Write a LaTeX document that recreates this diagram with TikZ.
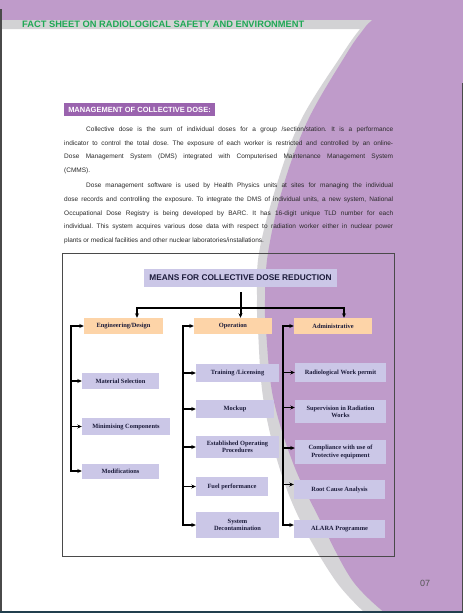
\documentclass[tikz,border=0pt]{standalone}
\usepackage{fontspec}
\setmainfont{Liberation Serif}
\newfontfamily\arialf{Liberation Sans}
\usetikzlibrary{arrows.meta}
\definecolor{pagepurple}{HTML}{BF9BCA}
\definecolor{shadowgray}{HTML}{D5D4D7}
\definecolor{bandgray}{HTML}{D2D2D4}
\definecolor{headgreen}{HTML}{1FA855}
\definecolor{headpurple}{HTML}{9A63AE}
\definecolor{lav}{HTML}{CBC7E7}
\definecolor{peach}{HTML}{FDD4A8}
\definecolor{navy}{HTML}{1B1B3A}
\definecolor{bodytext}{HTML}{2A2A2A}
\definecolor{framecol}{HTML}{4A4A4A}
\definecolor{edgedark}{HTML}{4A4A4A}
\definecolor{bottomband}{HTML}{213F4E}
\definecolor{pagenum}{HTML}{555555}
\newcommand{\jline}[2]{\makebox[#1][s]{#2}}
\frenchspacing
\begin{document}
\begin{tikzpicture}[x=1pt,y=-1pt,
  arr/.tip={Stealth[length=4.5pt,width=4pt]},
  catbox/.style={fill=peach, draw=none, inner sep=1pt, align=center, text=navy,
    font=\fontsize{6.4}{7.3}\selectfont\bfseries},
  subbox/.style={fill=lav, draw=none, inner sep=1pt, align=center, text=navy,
    font=\fontsize{6.4}{7.3}\selectfont\bfseries},
  bodyline/.style={anchor=west, inner sep=0pt, text=bodytext, text height=4.8pt, text depth=1.4pt,
    font=\arialf\fontsize{6.5}{7}\selectfont},
  bus/.style={line width=1.5pt},
  conn/.style={line width=1.1pt},
  trunk/.style={line width=2pt}]
\useasboundingbox (0,0) rectangle (463,613);
% page background
\fill[white] (0,0) rectangle (463,613);
\fill[shadowgray] plot[smooth, tension=0.6] coordinates {(368,20) (360,29) (343,53) (301,120) (276,187) (259,253) (257,300) (258,330) (263,397) (278,463) (300,520) (335,580) (365,613)} -- (463,613) -- (463,0) -- cycle;
\fill[pagepurple] plot[smooth, tension=0.6] coordinates {(378,12) (370,21) (363,30) (347,53) (308,120) (283,187) (268,253) (265,300) (266,330) (273,397) (293,463) (320,520) (352,580) (385,613)} -- (463,613) -- (463,0) -- cycle;
\fill[pagepurple] (0,0) rectangle (463,20);
\fill[bandgray] (2,20) -- (372,20) -- (362,29) -- (2,29) -- cycle;
\fill[edgedark] (0,9) rectangle (2.3,613);
\fill[edgedark] (461.5,83) rectangle (463,613);
\fill[bottomband] (0,610.5) rectangle (463,613);
% header
\node[anchor=west, inner sep=0pt, text=headgreen, font=\arialf\bfseries\fontsize{9.3}{10}\selectfont] (hdr) at (22,24.5) {FACT SHEET ON RADIOLOGICAL SAFETY AND ENVIRONMENT};
% section heading
\node[fill=headpurple, text=white, inner sep=0pt, minimum width=151pt, minimum height=13pt,
  font=\arialf\bfseries\fontsize{7.5}{8}\selectfont] (mh) at (139.5,109.5) {MANAGEMENT OF COLLECTIVE DOSE:};
% body text
\node[bodyline] (p1a) at (86,130) {\jline{307pt}{Collective dose is the sum of individual doses for a group /section/station. It is a performance}};
\node[bodyline] (p1b) at (64,143.5) {\jline{329pt}{indicator to control the total dose. The exposure of each worker is restricted and controlled by an online-}};
\node[bodyline] (p1c) at (64,157) {\jline{329pt}{Dose Management System (DMS) integrated with Computerised Maintenance Management System}};
\node[bodyline] (p1d) at (64,171) {(CMMS).};
\node[bodyline] (p2a) at (86,186) {\jline{307pt}{Dose management software is used by Health Physics units at sites for managing the individual}};
\node[bodyline] (p2b) at (64,200) {\jline{329pt}{dose records and controlling the exposure. To integrate the DMS of individual units, a new system, National}};
\node[bodyline] (p2c) at (64,213.5) {\jline{329pt}{Occupational Dose Registry is being developed by BARC. It has 16-digit unique TLD number for each}};
\node[bodyline] (p2d) at (64,227) {\jline{329pt}{individual. This system acquires various dose data with respect to radiation worker either in nuclear power}};
\node[bodyline] (p2e) at (64,241) {plants or medical facilities and other nuclear laboratories/installations.};
% frame
\draw[framecol, line width=0.8pt] (62,253) rectangle (394,556);
% title
\node[fill=lav, inner sep=0pt, minimum width=193pt, minimum height=18pt, text=navy,
  font=\arialf\bfseries\fontsize{8.3}{9}\selectfont] (title) at (240.5,278) {MEANS FOR COLLECTIVE DOSE REDUCTION};
% categories
\node[catbox, minimum width=79pt, minimum height=16pt] (eng) at (123.5,326) {Engineering/Design};
\node[catbox, minimum width=78pt, minimum height=16pt] (op) at (233,326) {Operation};
\node[catbox, minimum width=78pt, minimum height=16pt] (adm) at (333,326) {Administrative};
% engineering children
\node[subbox, minimum width=77pt, minimum height=16pt] (ms) at (120.5,381) {Material Selection};
\node[subbox, minimum width=88pt, minimum height=17pt] (mc) at (126,426.5) {Minimising Components};
\node[subbox, minimum width=77pt, minimum height=15pt] (mod) at (120.5,471) {Modifications};
% operation children
\node[subbox, minimum width=83pt, minimum height=18pt] (tl) at (237.5,373) {Training /Licensing};
\node[subbox, minimum width=78pt, minimum height=18pt] (mk) at (235,409) {Mockup};
\node[subbox, minimum width=83pt, minimum height=22pt] (eop) at (237.5,447) {Established Operating\\Procedures};
\node[subbox, minimum width=72pt, minimum height=19pt] (fp) at (232,486.5) {Fuel performance};
\node[subbox, minimum width=83pt, minimum height=26pt] (sd) at (237.5,525) {System\\Decontamination};
% administrative children
\node[subbox, minimum width=91pt, minimum height=19pt] (rwp) at (340.5,372.5) {Radiological Work permit};
\node[subbox, minimum width=91pt, minimum height=23pt] (srw) at (340.5,411.5) {Supervision in Radiation\\Works};
\node[subbox, minimum width=91pt, minimum height=24pt] (cpe) at (340.5,452) {Compliance with use of\\Protective equipment};
\node[subbox, minimum width=91pt, minimum height=19pt] (rca) at (339.5,489.5) {Root Cause Analysis};
\node[subbox, minimum width=91pt, minimum height=18pt] (alara) at (339.5,529) {ALARA Programme};
% page number
\node[inner sep=0pt, text=pagenum, font=\arialf\fontsize{9}{10}\selectfont] (pnum) at (425,583.5) {07};
% top connectors
\coordinate (hl) at (137,308);
\coordinate (hr) at (344,308);
\draw[trunk,-arr] ([yshift=-5pt]title.south) -- (title.south |- op.north);
\draw[conn,arr-arr] (hl |- eng.north) -- (hl) -- (hr) -- (hr |- adm.north);
% engineering bus
\coordinate (be) at (71,326);
\draw[bus,arr-arr] (eng.west) -| (be |- mod.west) -- (mod.west);
\draw[bus,-arr] (be |- ms.west) -- (ms.west);
\draw[bus,-arr] (be |- mc.west) -- (mc.west);
% operation bus
\coordinate (bo) at (183,326);
\draw[bus,arr-arr] (op.west) -| (bo |- sd.west) -- (sd.west);
\draw[bus,-arr] (bo |- tl.west) -- (tl.west);
\draw[bus,-arr] (bo |- mk.west) -- (mk.west);
\draw[bus,-arr] (bo |- eop.west) -- (eop.west);
\draw[bus,-arr] (bo |- fp.west) -- (fp.west);
% administrative bus
\coordinate (ba) at (283,326);
\draw[bus,arr-arr] (adm.west) -| ([yshift=4pt]ba |- alara.west) -- ([yshift=4pt]alara.west);
\draw[bus,-arr] (ba |- rwp.west) -- (rwp.west);
\draw[bus,-arr] ([yshift=4pt]ba |- srw.west) -- ([yshift=4pt]srw.west);
\draw[bus,-arr] ([yshift=4pt]ba |- cpe.west) -- ([yshift=4pt]cpe.west);
\draw[bus,-arr] ([yshift=5pt]ba |- rca.west) -- ([yshift=5pt]rca.west);
\end{tikzpicture}
\end{document}
